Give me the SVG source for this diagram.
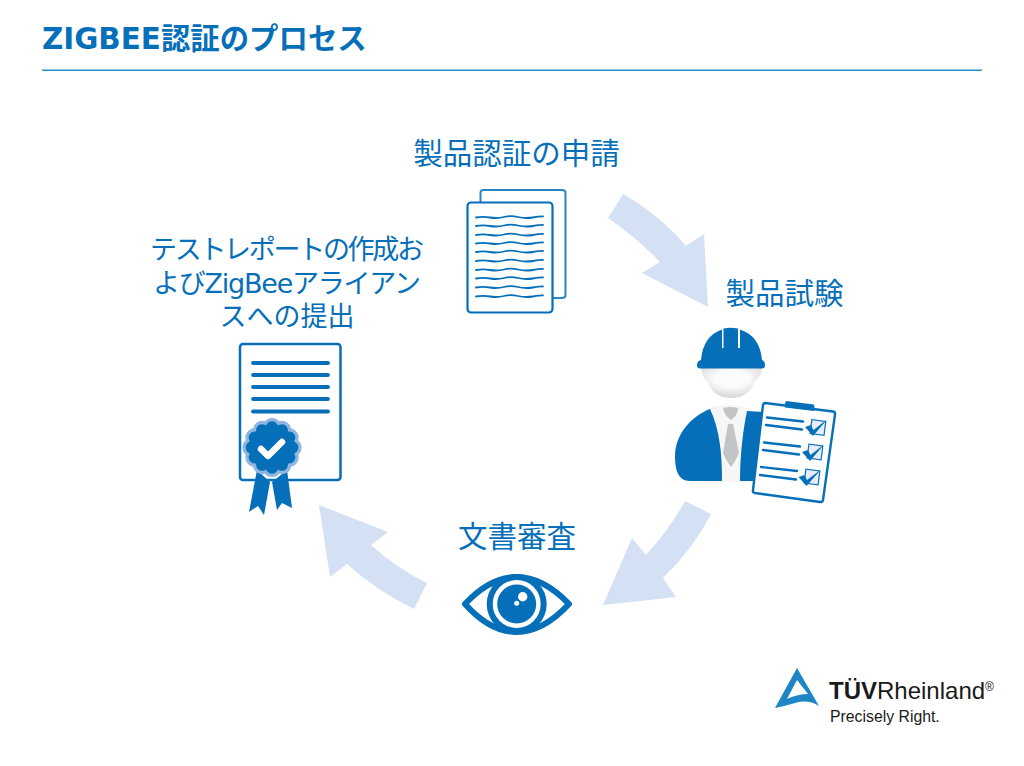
<svg xmlns="http://www.w3.org/2000/svg" width="1024" height="766" viewBox="0 0 1024 766">
<defs>
<radialGradient id="face" cx="50%" cy="35%" r="62%"><stop offset="0.45" stop-color="#fbfbfb"/><stop offset="1" stop-color="#d9d9d9"/></radialGradient>
</defs>
<style>
.t{font-family:"DejaVu Sans","Noto Sans CJK JP",sans-serif;font-size:29.500px;fill:#066fba}
.m{font-size:27px}
.a{fill:#d4e0f3}
.b{fill:#066fba}
.w{fill:none;stroke:#066fba;stroke-width:1.800;stroke-linecap:round}
.l{stroke:#066fba;stroke-width:3.800;stroke-linecap:round;fill:none}
.c{stroke:#066fba;stroke-width:2.400;stroke-linecap:round;fill:none}
.f{font-family:"Liberation Sans",sans-serif;fill:#1a1a1a}
</style>
<rect width="1024" height="766" fill="#fff"/>
<g id="title">
<text x="42" y="49" font-family="'DejaVu Sans','Noto Sans CJK JP',sans-serif" font-weight="700" font-size="29.400" fill="#066fba">ZIGBEE認証のプロセス</text>
<rect x="42" y="69.500" width="940" height="1.500" fill="#2a8cc6"/>
</g>
<g id="connectors">
<path class="a" d="M623 194Q661 216 686 246L704 234L708 307L642 273L660 262Q637 238 608 218Z"/>
<path class="a" d="M685 501Q669 530 646 555L632 538L603 605L676 597L663 578Q693 549 711 514Z"/>
<path class="a" d="M427 583Q396 568 371 545L388 532L319 505L330 577L347 564Q377 591 414 609Z"/>
</g>
<g id="node-application">
<text class="t" x="516.500" y="164" text-anchor="middle">製品認証の申請</text>
<path d="M480.500 202V193Q480.500 190 483.500 190H562Q565.500 190 565.500 193V295Q565.500 298 562 298H553" fill="#fff" stroke="#2a85c4" stroke-width="2"/>
<rect x="467.500" y="202.500" width="85" height="110" rx="3.500" fill="#fff" stroke="#066fba" stroke-width="2.200"/>
<g class="w">
<path d="M476 217.500q7-1.200 14 0t14-.5 14 0 15 .5 10-1"/>
<path d="M476 226q7-1.200 14 0t14-.5 14 0 15 .5 10-1"/>
<path d="M476 235q7-1.200 14 0t14-.5 14 0 15 .5 10-1"/>
<path d="M476 243.500q7-1.200 14 0t14-.5 14 0 15 .5 10-1"/>
<path d="M476 252q7-1.200 14 0t14-.5 14 0 15 .5 10-1"/>
<path d="M476 261q7-1.200 14 0t14-.5 14 0 15 .5 10-1"/>
<path d="M476 270q7-1.200 14 0t14-.5 14 0 15 .5 10-1"/>
<path d="M476 278.500q7-1.200 14 0t14-.5 14 0 15 .5 10-1"/>
<path d="M476 287.500q7-1.200 14 0t14-.5 14 0 15 .5 10-1"/>
<path d="M476 296.500q7-1.200 14 0t14-.5 14 0 15 .5 10-1"/>
</g>
</g>
<g id="node-testing">
<text class="t" x="784.500" y="304" text-anchor="middle">製品試験</text>
<path d="M701 368H762Q761 377 755 381Q749 398 731 398Q713 398 707 381Q702 377 701 368Z" fill="url(#face)"/>
<path d="M708 408Q728 402 749 408L762 482H700Z" fill="#f6f6f6"/>
<path class="b" d="M710 409C690 417 675 435 675 456C675 470 678 481 690 481H722C722 455 720 430 710 409Z"/>
<path class="b" d="M747 411C743 430 740 455 740 481H755L763 412Z"/>
<path d="M723 408Q731 406 738 408Q738 415 731 420Q724 415 723 408Z" fill="#c3c4c6"/>
<path d="M728 424H733L739 453Q735 462 731 467Q727 462 723 453Z" fill="#c3c4c6"/>
<path class="b" d="M697 365Q697 361 701 360Q703 336 722 329.500V348H723.500V328.500Q730 327 738 328.500V348H740V329.500Q760 336 762 360Q765 361 765 365Q765 368.500 762 368.500H700Q697 368.500 697 365Z"/>
<path d="M765 403L833 411.500Q835.500 412 835 414.500L823 500Q822.500 502.500 820 502L755 493Q752.500 492.500 753 490L763 405Q763.500 403 765 403Z" fill="#fff" stroke="#066fba" stroke-width="2.400"/>
<path class="b" d="M786 401L814 404.500Q815 408.500 814 411L785 407.500Q784 404 786 401Z"/>
<g class="c">
<path d="M767 417.500L803 421.500"/><path d="M766 425L802 429.500"/>
<path d="M764 442.500L800 446.500"/><path d="M763 450L799 454.500"/>
<path d="M761 467L797 471"/><path d="M760 475L796 479.500"/>
</g>
<g fill="#e6edf8" stroke="#066fba" stroke-width="1.200">
<rect x="811" y="420.500" width="14" height="14" transform="rotate(7 818 427)"/>
<rect x="808" y="445" width="14" height="14" transform="rotate(7 815 452)"/>
<rect x="805" y="470" width="14" height="14" transform="rotate(7 812 477)"/>
</g>
<g class="b">
<path d="M805 427L811 425L813.500 430L827 419.500L813 436Z"/>
<path d="M802 452L808 450L810.500 455L824 444.500L810 461Z"/>
<path d="M798.500 477L804.500 475L807 480L821 469.500L806.500 486Z"/>
</g>
</g>
<g id="node-review">
<text class="t" x="517" y="547" text-anchor="middle">文書審査</text>
<path d="M465 604Q490 577 516.500 577Q543 577 569 604Q543 632 516.500 632Q490 632 465 604Z" fill="#fff" stroke="#066fba" stroke-width="6" stroke-linejoin="round"/>
<circle cx="516.700" cy="604" r="30" class="b"/>
<circle cx="516.700" cy="604" r="24" fill="#fff"/>
<circle cx="516.700" cy="604" r="19.500" class="b"/>
<circle cx="522.700" cy="596.700" r="4.700" fill="#fff"/>
<circle cx="516.700" cy="603.300" r="2.500" fill="#fff"/>
</g>
<g id="node-report">
<text class="t m" x="150" y="259" textLength="274" lengthAdjust="spacing">テストレポートの作成お</text>
<text class="t m" x="153" y="293" textLength="268" lengthAdjust="spacing">よびZigBeeアライアン</text>
<text class="t m" x="287" y="326" text-anchor="middle">スへの提出</text>
<rect x="240" y="344" width="100.500" height="136" rx="3" fill="#fff" stroke="#066fba" stroke-width="2.500"/>
<g class="l">
<path d="M253 363H328"/><path d="M253 375H328"/><path d="M253 387H328"/><path d="M253 399H328"/><path d="M253 411.500H328"/>
</g>
<path class="b" d="M257 470L249 512L258 506L264 515L270 482L257 470Z"/>
<path class="b" d="M272 482L277 510L282 503L292 508L287 470Z"/>
<path class="b" stroke="#8fb6e0" stroke-width="3" transform="translate(272 447.500) scale(1.100) translate(-272 -447)" d="M278 425A7 7 0 0 1 288 431A7 7 0 0 1 294 441A7 7 0 0 1 294 453A7 7 0 0 1 288 463A7 7 0 0 1 278 469A7 7 0 0 1 266 469A7 7 0 0 1 256 463A7 7 0 0 1 250 453A7 7 0 0 1 250 441A7 7 0 0 1 256 431A7 7 0 0 1 266 425A7 7 0 0 1 278 425Z"/>
<path d="M261 449L268 456L282 442" fill="none" stroke="#fff" stroke-width="6.500" stroke-linecap="round" stroke-linejoin="round"/>
</g>
<g id="logo">
<path d="M775 708L797 668L819 706Q808 699 795 703Q785 706 775 708ZM787 699Q798 694 808 694L797 680Z" fill="#1f86c6" fill-rule="evenodd"/>
<text class="f" x="829" y="699" font-size="24" font-weight="700">TÜV<tspan font-weight="400">Rheinland</tspan></text>
<text class="f" x="985" y="691" font-size="12">®</text>
<text class="f" x="830" y="722" font-size="15.800">Precisely Right.</text>
</g>
</svg>
